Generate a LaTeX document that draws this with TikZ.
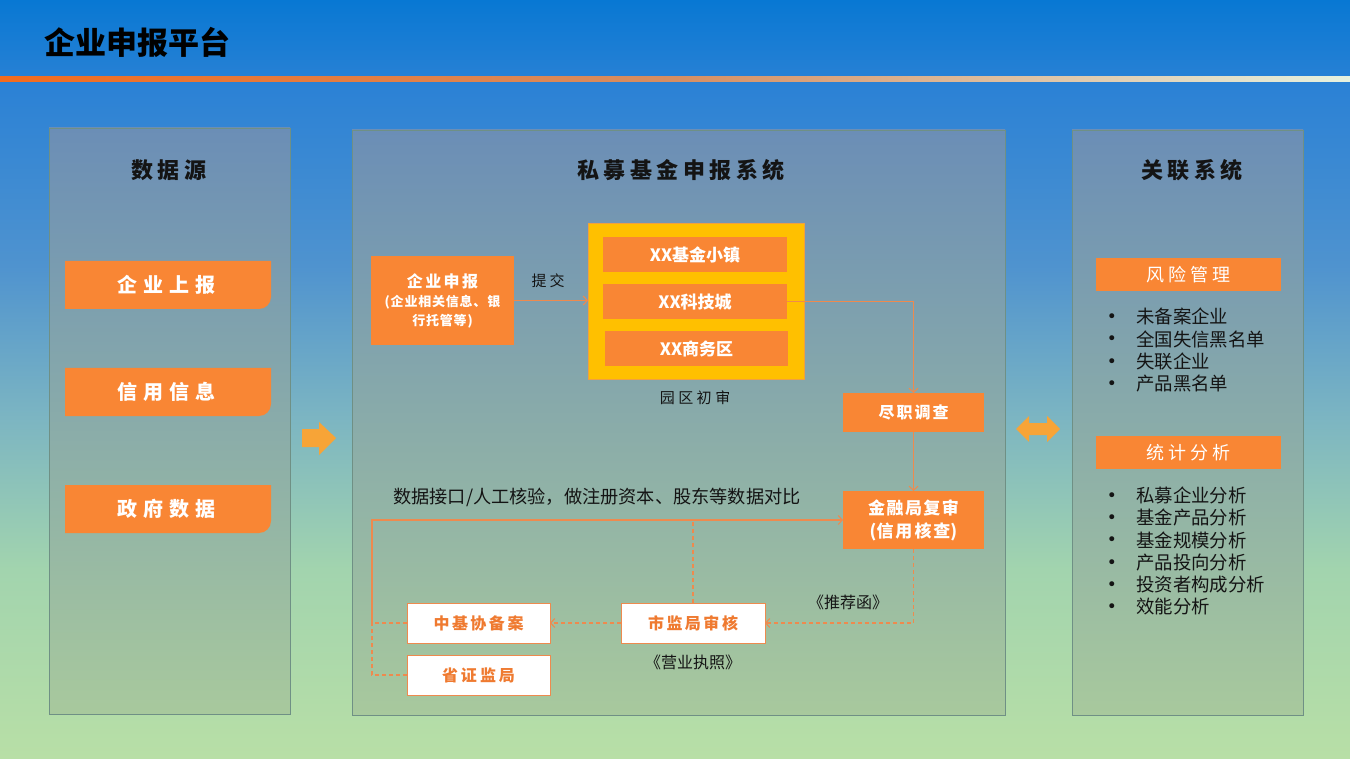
\documentclass[tikz,border=0pt]{standalone}
\usepackage{fontspec}
\setmainfont{Noto Sans CJK SC}
\newfontfamily\dvs{DejaVu Sans}
\usetikzlibrary{arrows.meta}
\definecolor{org}{HTML}{F98634}
\definecolor{ylw}{HTML}{FFC000}
\definecolor{ybd}{HTML}{F0A040}
\definecolor{lnc}{HTML}{EE8A4E}
\definecolor{txo}{HTML}{EF7A30}
\definecolor{arw}{HTML}{F7A437}
\definecolor{pbd}{HTML}{6F9085}
\definecolor{ink}{HTML}{141414}
\definecolor{bgA}{HTML}{0878D3}
\definecolor{bgB}{HTML}{2C82D5}
\definecolor{bgC}{HTML}{4F93CF}
\definecolor{bgD}{HTML}{7CB5C2}
\definecolor{bgE}{HTML}{A2D4AE}
\definecolor{bgF}{HTML}{B8DFA6}
\definecolor{pTop}{HTML}{6B8EB6}
\definecolor{pMid}{HTML}{88AAAA}
\definecolor{pBot}{HTML}{A8C99D}
\definecolor{lnL}{HTML}{F26B1E}
\definecolor{lnM}{HTML}{D68E62}
\definecolor{lnR}{HTML}{E6F2E0}
\pgfdeclareverticalshading{bgsh}{100bp}{color(0bp)=(bgF); color(25bp)=(bgF); color(37.5bp)=(bgE); color(47.5bp)=(bgD); color(57.5bp)=(bgC); color(69bp)=(bgB); color(75bp)=(bgA); color(100bp)=(bgA)}
\makeatletter
\newcommand\ls[2]{{\def\ls@g{\hspace{#1}}\let\ls@sep\relax\@tfor\ls@c:=#2\do{\ls@sep\ls@c\let\ls@sep\ls@g}}}
\makeatother
\tikzset{
  panel/.style={draw=pbd, line width=0.8pt, top color=pTop, middle color=pMid, bottom color=pBot, inner sep=0pt, outer sep=0pt},
  ptitle/.style={text=ink, font=\fontsize{22}{26}\selectfont\bfseries},
  obox/.style={fill=org, text=white, inner sep=0pt, outer sep=0pt, align=center},
  wbox/.style={fill=white, draw=lnc, line width=1pt, text=txo, inner sep=0pt, outer sep=0pt, font=\fontsize{16}{20}\selectfont\bfseries},
  lbl/.style={text=ink, inner sep=0pt},
  conn/.style={draw=lnc, line width=1.1pt, -{Straight Barb[length=4pt,width=9pt]}},
  dconn/.style={draw=lnc, line width=1.1pt, dash pattern=on 4pt off 3pt},
  item/.style={text=ink, anchor=west, inner sep=0pt, font=\fontsize{18.4}{22}\selectfont},
  bul/.style={text=ink, inner sep=0pt, font=\dvs\fontsize{17}{19}\selectfont},
}
\begin{document}
\begin{tikzpicture}[x=1pt,y=-1pt]
\useasboundingbox (0,0) rectangle (1350,759);
% background
\shade[shading=bgsh] (0,0) rectangle (1350,759);
\shade[left color=lnL, right color=lnR, middle color=lnM] (0,77) rectangle (1350,82);
\node[anchor=west, inner sep=0pt, text=black, font=\fontsize{31}{35}\selectfont\bfseries] (title) at (44,42) {企业申报平台};
% panels
\node[panel, minimum width=241pt, minimum height=586pt] (p1) at (169.5,421) {};
\node[panel, minimum width=653pt, minimum height=585pt] (p2) at (678.5,422.5) {};
\node[panel, minimum width=231pt, minimum height=585pt] (p3) at (1187.5,422.5) {};
\node[ptitle] (t1) at (169,170) {\ls{4.5pt}{数据源}};
\node[ptitle] (t2) at (681,170) {\ls{4.5pt}{私募基金申报系统}};
\node[ptitle] (t3) at (1192,170) {\ls{4.5pt}{关联系统}};
% source boxes (rounded top-right corner)
\foreach \yc in {261,368,485}{
  \fill[org] (65,\yc+48) -- (65,\yc) -- (271,\yc) [rounded corners=12pt] -- (271,\yc+48) [sharp corners] -- cycle;
}
\node[text=white, inner sep=0pt, font=\fontsize{20}{24}\selectfont\bfseries] (s1) at (166,285) {\ls{6pt}{企业上报}};
\node[text=white, inner sep=0pt, font=\fontsize{20}{24}\selectfont\bfseries] (s2) at (166,392) {\ls{6pt}{信用信息}};
\node[text=white, inner sep=0pt, font=\fontsize{20}{24}\selectfont\bfseries] (s3) at (166,509) {\ls{6pt}{政府数据}};
% block arrows
\fill[arw] (302,429) -- (319,429) -- (319,422) -- (336,438) -- (319,455) -- (319,447) -- (302,447) -- cycle;
\fill[arw] (1016,429) -- (1029,416) -- (1029,423) -- (1047,423) -- (1047,416) -- (1060,429) -- (1047,442) -- (1047,435) -- (1029,435) -- (1029,442) -- cycle;
% middle panel
\node[obox, minimum width=143pt, minimum height=89pt, font=\fontsize{13}{19}\selectfont\bfseries] (qy) at (442.5,300.5)
  {{\fontsize{16}{20}\selectfont\ls{2.5pt}{企业申报}}\\\ls{0.8pt}{(企业相关信息、银}\\\ls{0.8pt}{行托管等)}};
\node[fill=ylw, draw=ybd, line width=0.8pt, minimum width=216pt, minimum height=156pt, inner sep=0pt, outer sep=0pt] (yb) at (696,301) {};
\node[obox, minimum width=184pt, minimum height=35pt, font=\fontsize{17}{20}\selectfont\bfseries] (j1) at (695,254.5) {XX基金小镇};
\node[obox, minimum width=184pt, minimum height=35pt, font=\fontsize{17}{20}\selectfont\bfseries] (j2) at (695,301.5) {XX科技城};
\node[obox, minimum width=183pt, minimum height=35pt, font=\fontsize{17}{20}\selectfont\bfseries] (j3) at (696.5,348.5) {XX商务区};
\node[lbl, font=\fontsize{15}{18}\selectfont] (tj0) at (548,281) {\ls{3pt}{提交}};
\node[lbl, font=\fontsize{15}{18}\selectfont] (yq) at (695,398) {\ls{3.5pt}{园区初审}};
\node[obox, minimum width=141pt, minimum height=39pt, font=\fontsize{16}{20}\selectfont\bfseries] (jz) at (913.5,412.5) {\ls{2pt}{尽职调查}};
\node[obox, minimum width=141pt, minimum height=58pt, font=\fontsize{17}{23}\selectfont\bfseries] (jr) at (913.5,520) {\ls{1.5pt}{金融局复审}\\(\ls{2pt}{信用核查})};
\node[lbl, font=\fontsize{18.2}{20}\selectfont] (desc) at (597,497) {数据接口/人工核验，做注册资本、股东等数据对比};
\node[wbox, minimum width=143pt, minimum height=40pt] (zj) at (478.5,623) {\ls{2.5pt}{中基协备案}};
\node[wbox, minimum width=143pt, minimum height=40pt] (sz) at (478.5,675) {\ls{3pt}{省证监局}};
\node[wbox, minimum width=144pt, minimum height=40pt] (sj) at (693,623) {\ls{2.5pt}{市监局审核}};
\node[lbl, font=\fontsize{16}{20}\selectfont] (tjh) at (848,602) {《推荐函》};
\node[lbl, font=\fontsize{16}{20}\selectfont] (yyzz) at (693,662) {《营业执照》};
\coordinate (L1) at (372,520);
\coordinate (L2) at (372,623);
\coordinate (L3) at (372,675);
% connectors
\draw[conn] (qy.east) -- (yb.west |- qy.east);
\draw[conn] (j2.east) -| (jz.north);
\draw[conn] (jz.south) -- (jr.north);
\draw[conn] (L2) -- (L1) -- (jr.west);
\draw[dconn] (sj.north) -- (sj.north |- L1);
\draw[dconn, -{Straight Barb[length=4pt,width=9pt]}] (jr.south) |- (sj.east);
\draw[dconn, -{Straight Barb[length=4pt,width=9pt]}] (sj.west) -- (zj.east);
\draw[dconn] (zj.west) -- (L2);
\draw[dconn] (sz.west) -- (L3) -- (L2);
% right panel
\node[obox, minimum width=185pt, minimum height=33pt, font=\fontsize{18}{22}\selectfont] (fx) at (1188.5,274.5) {\ls{4pt}{风险管理}};
\node[obox, minimum width=185pt, minimum height=33pt, font=\fontsize{18}{22}\selectfont] (tjfx) at (1188.5,452.5) {\ls{4pt}{统计分析}};
\foreach \t/\yy [count=\i] in {未备案企业/316.5, 全国失信黑名单/339, 失联企业/361.5, 产品黑名单/383.5}{
  \node[bul] (ba\i) at (1112,\yy+1.5) {•};
  \node[item] (ra\i) at (1136,\yy) {\t};
}
\foreach \t/\yy [count=\i] in {私募企业分析/495.5, 基金产品分析/517.5, 基金规模分析/540, 产品投向分析/562.5, 投资者构成分析/584.5, 效能分析/607}{
  \node[bul] (bb\i) at (1112,\yy+1.5) {•};
  \node[item] (rb\i) at (1136,\yy) {\t};
}
\end{tikzpicture}
\end{document}
